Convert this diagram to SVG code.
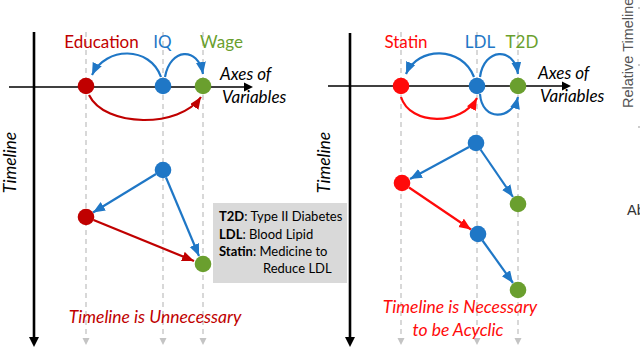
<svg xmlns="http://www.w3.org/2000/svg" width="640" height="349" viewBox="0 0 640 349">
<defs>
<style>
.t{font-family:Lato,"Liberation Sans",sans-serif}
.lbl{font-size:17px;text-anchor:middle}
.ax{font-size:17px;font-style:italic;fill:#000}
.tl{font-size:17.5px;font-style:italic;fill:#000;text-anchor:middle}
.note{font-size:17.5px;font-style:italic;text-anchor:middle}
.key{font-size:13px;fill:#000}
.dash{stroke:#c4c4c4;stroke-width:1.3;stroke-dasharray:5 4;fill:none}
.dtip{fill:#c4c4c4}
.axis{stroke:#000;fill:none}
.blue{stroke:#1f77c6;stroke-width:2.2;fill:none;marker-end:url(#ab)}
.dred{stroke:#c00000;stroke-width:2.2;fill:none;marker-end:url(#adr)}
.red{stroke:#ff0a0a;stroke-width:2.2;fill:none;marker-end:url(#ar)}
.nb{fill:#1f77c6}
.ndr{fill:#c00000}
.nr{fill:#ff0a0a}
.ng{fill:#6a9f2e}
</style>
<marker id="ab" markerUnits="userSpaceOnUse" markerWidth="13" markerHeight="11" refX="12" refY="5" orient="auto"><path d="M0,0 L12,5 L0,10 z" fill="#1f77c6"/></marker>
<marker id="adr" markerUnits="userSpaceOnUse" markerWidth="13" markerHeight="11" refX="12" refY="5" orient="auto"><path d="M0,0 L12,5 L0,10 z" fill="#c00000"/></marker>
<marker id="ar" markerUnits="userSpaceOnUse" markerWidth="13" markerHeight="11" refX="12" refY="5" orient="auto"><path d="M0,0 L12,5 L0,10 z" fill="#ff0a0a"/></marker>
</defs>
<rect width="640" height="349" fill="#fff"/>

<g id="guides">
<path class="dash" d="M86,32V339M163,32V339M203,32V339M401,32V339M477,32V339M518,32V339"/>
<path class="dtip" d="M82.5,338H89.5L86,345zM159.5,338H166.5L163,345zM199.5,338H206.5L203,345zM397.5,338H404.5L401,345zM473.5,338H480.5L477,345zM514.5,338H521.5L518,345z"/>
</g>

<g id="axes">
<line class="axis" x1="34" y1="32" x2="34" y2="339" stroke-width="2.6"/>
<path d="M29,337H39L34,347z"/>
<line class="axis" x1="9" y1="87" x2="245" y2="87" stroke-width="1.5"/>
<path d="M244,82.5L253,87L244,91.5z"/>
<line class="axis" x1="350" y1="33" x2="350" y2="339" stroke-width="2.6"/>
<path d="M345,337H355L350,347z"/>
<line class="axis" x1="328" y1="86" x2="563" y2="86" stroke-width="1.5"/>
<path d="M562,81.5L571,86L562,90.5z"/>
<text class="t ax" x="220" y="80">Axes of</text>
<text class="t ax" x="222" y="103">Variables</text>
<text class="t ax" x="538" y="79">Axes of</text>
<text class="t ax" x="540" y="102">Variables</text>
<text class="t tl" transform="translate(16,162.5) rotate(-90)">Timeline</text>
<text class="t tl" transform="translate(330,162.5) rotate(-90)">Timeline</text>
</g>

<g id="connectors">
<path class="blue" d="M161,77 C150,46 106,46 92,75"/>
<path class="blue" d="M165,77 C170,48 198,46 203,74"/>
<path class="dred" d="M89,95 C105,128 180,128 201,97"/>
<path class="blue" d="M156,174 L93,212.5"/>
<path class="blue" d="M166,177.5 L199,256"/>
<path class="dred" d="M93.5,220 L194,261"/>
<path class="blue" d="M474,77 C462,46 418,46 406,74"/>
<path class="blue" d="M480,77 C484,48 514,46 518,74"/>
<path class="red" d="M401,97 C410,126 462,126 477,98"/>
<path class="blue" d="M480,94 C482,122 512,120 518,97"/>
<path class="blue" d="M469,147 L410,179"/>
<path class="blue" d="M480.5,149.5 L513,197"/>
<path class="red" d="M409,187.5 L471,229.5"/>
<path class="blue" d="M482.5,240.5 L513,283"/>
</g>

<g id="education-top"><circle class="ndr" cx="86" cy="86" r="8.3"/><text class="t lbl" x="101.5" y="48" fill="#c00000">Education</text></g>
<g id="iq-top"><circle class="nb" cx="163" cy="86" r="8.3"/><text class="t lbl" x="162.5" y="48" fill="#1f77c6">IQ</text></g>
<g id="wage-top"><circle class="ng" cx="203" cy="86" r="8.3"/><text class="t lbl" x="221.5" y="48" fill="#6a9f2e">Wage</text></g>
<g id="iq-low"><circle class="nb" cx="163" cy="170" r="8.3"/></g>
<g id="education-low"><circle class="ndr" cx="86" cy="217" r="8.3"/></g>
<g id="wage-low"><circle class="ng" cx="203" cy="264" r="8.3"/></g>

<g id="statin-top"><circle class="nr" cx="401" cy="86" r="8.3"/><text class="t lbl" x="406" y="48" fill="#ff0a0a">Statin</text></g>
<g id="ldl-top"><circle class="nb" cx="477" cy="86" r="8.3"/><text class="t lbl" x="480" y="48" fill="#1f77c6">LDL</text></g>
<g id="t2d-top"><circle class="ng" cx="518" cy="86" r="8.3"/><text class="t lbl" x="522" y="48" fill="#6a9f2e">T2D</text></g>
<g id="ldl-1"><circle class="nb" cx="476" cy="143" r="8.3"/></g>
<g id="statin-1"><circle class="nr" cx="402" cy="183" r="8.3"/></g>
<g id="t2d-1"><circle class="ng" cx="518" cy="204" r="8.3"/></g>
<g id="ldl-2"><circle class="nb" cx="478" cy="234" r="8.3"/></g>
<g id="t2d-2"><circle class="ng" cx="518" cy="290" r="8.3"/></g>

<g id="legend">
<rect x="213" y="203" width="134" height="80" fill="#d9d9d9"/>
<text class="t key" x="219" y="221"><tspan font-weight="bold">T2D</tspan>: Type II Diabetes</text>
<text class="t key" x="219" y="239"><tspan font-weight="bold">LDL</tspan>: Blood Lipid</text>
<text class="t key" x="219" y="256"><tspan font-weight="bold">Statin</tspan>: Medicine to</text>
<text class="t key" x="263" y="273">Reduce LDL</text>
</g>

<g id="captions">
<text class="t note" x="155" y="323" fill="#c00000">Timeline is Unnecessary</text>
<text class="t note" x="460" y="313" fill="#ff0a0a">Timeline is Necessary</text>
<text class="t note" x="458" y="336" fill="#ff0a0a">to be Acyclic</text>
</g>

<g id="edge-fragment">
<text transform="translate(633,108) rotate(-90)" font-family="'Liberation Sans',Arial,sans-serif" font-size="14.5" fill="#555">Relative Timeline</text>
<text x="627" y="215" font-family="'Liberation Sans',Arial,sans-serif" font-size="14.5" fill="#333">Ab</text>
<path d="M638,8h2M638,65h2M638,127h2" stroke="#999" stroke-width="1"/>
</g>
</svg>
